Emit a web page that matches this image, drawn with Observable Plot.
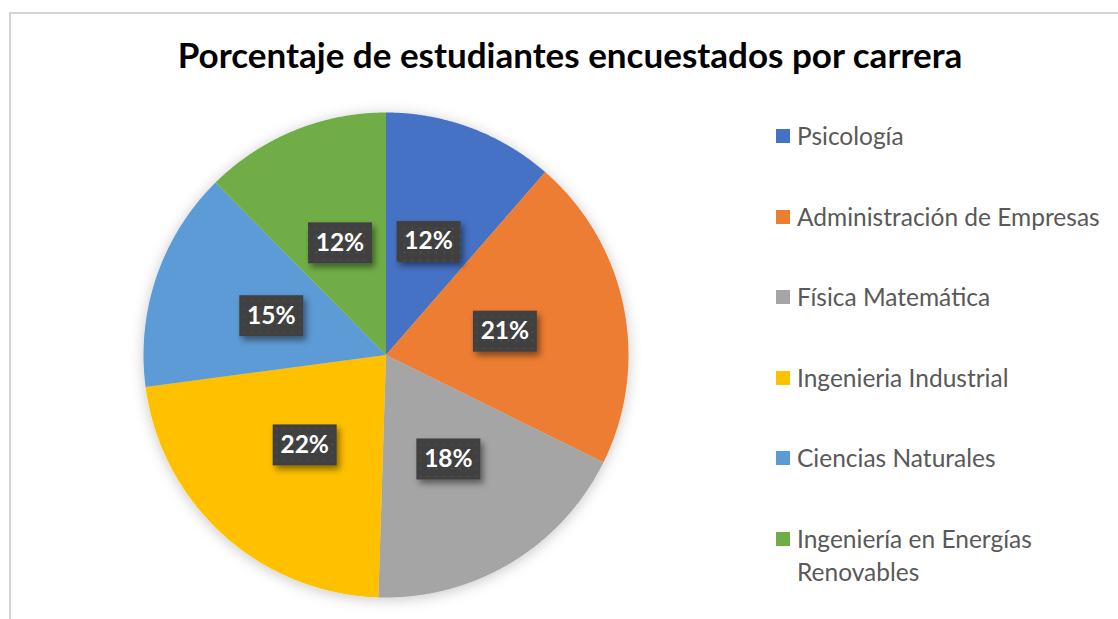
<!DOCTYPE html>
<html>
<head>
<meta charset="utf-8">
<script src="https://cdn.jsdelivr.net/npm/d3@7"></script>
<script src="https://cdn.jsdelivr.net/npm/@observablehq/plot@0.6"></script>
<style>
  body { margin: 0; background: #fff; }
  #wrap { position: relative; width: 1118px; height: 619px; overflow: hidden; font-family: Lato, "Open Sans", sans-serif; background: #fff; }
  #frame { position: absolute; left: 9px; top: 12px; width: 1200px; height: 700px; border-top: 2px solid #d4d4d4; border-left: 2px solid #d4d4d4; }
  #title { position: absolute; left: 0; width: 1140px; top: 32px; line-height: 44px; text-align: center; font-weight: bold; font-size: 35px; color: #000; white-space: nowrap; }
  #chart { position: absolute; left: 0; top: 0; }
  .leg { position: absolute; left: 776px; width: 340px; color: #595959; font-size: 24.5px; line-height: 33px; }
  .leg .sw { position: absolute; left: 0; top: 10px; width: 14px; height: 14px; }
  .leg .tx { position: absolute; left: 21px; top: 0; width: 322px; }
</style>
</head>
<body>
<svg width="0" height="0" style="position:absolute">
  <defs>
    <pattern id="dots" width="8" height="8" patternUnits="userSpaceOnUse">
      <rect width="8" height="8" fill="#404040"></rect>
      <rect x="3" y="3" width="2" height="2" fill="#4d4d4d"></rect>
    </pattern>
    <filter id="boxShadow" x="-30%" y="-30%" width="170%" height="180%">
      <feDropShadow dx="3" dy="4" stdDeviation="3" flood-color="#000" flood-opacity="0.45"></feDropShadow>
    </filter>
    <filter id="pieShadow" x="-10%" y="-10%" width="120%" height="120%">
      <feDropShadow dx="0" dy="2" stdDeviation="7" flood-color="#000" flood-opacity="0.22"></feDropShadow>
    </filter>
  </defs>
</svg>
<div id="wrap">
  <div id="frame"></div>
  <div id="title">Porcentaje de estudiantes encuestados por carrera</div>
  <div id="chart"></div>
  <div id="legend"></div>
</div>
<script>
// ---- data ----
const categories = [
  "Psicología",
  "Administración de Empresas",
  "Física Matemática",
  "Ingenieria Industrial",
  "Ciencias Naturales",
  "Ingeniería en Energías Renovables"
];
const shares = [11.4, 20.9, 18.2, 22.4, 14.7, 12.4];
const labels = ["12%", "21%", "18%", "22%", "15%", "12%"];
const colors = ["#4472C4", "#ED7D31", "#A5A5A5", "#FFC000", "#5B9BD5", "#70AD47"];

const data = categories.map((c, i) => ({ cat: c, share: shares[i], label: labels[i] }));

// pie geometry (unit circle, angle 0 at top, clockwise)
const arcs = d3.pie().sort(null).value(d => d.share)(data);
const slicePts = arcs.flatMap(a => {
  const n = Math.max(2, Math.ceil((a.endAngle - a.startAngle) / 0.005));
  const pts = [{ cat: a.data.cat, x: 0, y: 0 }];
  for (let i = 0; i <= n; i++) {
    const t = a.startAngle + (a.endAngle - a.startAngle) * i / n;
    pts.push({ cat: a.data.cat, x: Math.sin(t), y: Math.cos(t) });
  }
  pts.push({ cat: a.data.cat, x: 0, y: 0 });
  return pts;
});
const labelPts = arcs.map(a => {
  const m = (a.startAngle + a.endAngle) / 2;
  return { cat: a.data.cat, label: a.data.label, x: 0.5 * Math.sin(m), y: 0.5 * Math.cos(m) };
});

const plot = Plot.plot({
  width: 1118,
  height: 619,
  marginLeft: 143,
  marginRight: 490,
  marginTop: 112,
  marginBottom: 22,
  x: { domain: [-1, 1], axis: null },
  y: { domain: [-1, 1], axis: null },
  color: { domain: categories, range: colors },
  style: { background: "transparent", overflow: "visible" },
  marks: [
    Plot.line(slicePts, { x: "x", y: "y", z: "cat", fill: "cat", stroke: null, curve: "linear" }),
    Plot.text(labelPts, {
      x: "x", y: "y", text: "label",
      fill: "white", fontSize: 24.5, fontWeight: "bold",
      fontFamily: "Lato, 'Open Sans', sans-serif",
      render: (index, scales, values, dims, context, next) => {
        const g = next(index, scales, values, dims, context);
        const boxes = d3.create("svg:g");
        for (const i of index) {
          boxes.append("rect")
            .attr("x", values.x[i] - 32)
            .attr("y", values.y[i] - 20.5)
            .attr("width", 64)
            .attr("height", 41)
            .attr("fill", "url(#dots)")
            .attr("filter", "url(#boxShadow)");
        }
        g.insertBefore(boxes.node(), g.firstChild);
        return g;
      }
    })
  ]
});
// soft shadow around the pie
const pieG = plot.querySelector("g[aria-label='line']");
if (pieG) pieG.setAttribute("filter", "url(#pieShadow)");
document.getElementById("chart").appendChild(plot);

// legend
const legend = document.getElementById("legend");
categories.forEach((c, i) => {
  const row = document.createElement("div");
  row.className = "leg";
  row.style.top = (119 + i * 80.6) + "px";
  const sw = document.createElement("div");
  sw.className = "sw";
  sw.style.background = colors[i];
  const tx = document.createElement("div");
  tx.className = "tx";
  tx.textContent = c;
  row.appendChild(sw);
  row.appendChild(tx);
  legend.appendChild(row);
});
</script>
</body>
</html>
